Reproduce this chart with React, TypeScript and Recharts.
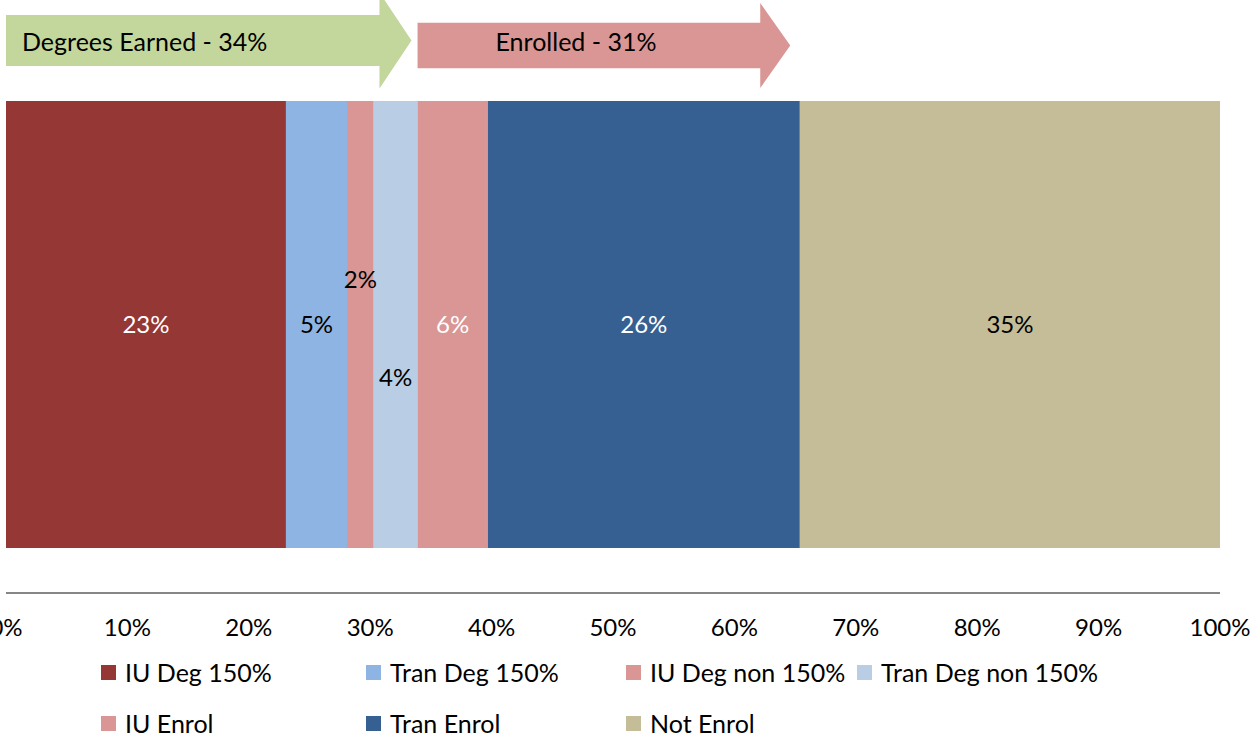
import { Bar, BarChart, LabelList, Legend, ReferenceArea, XAxis, YAxis } from "recharts";

const SERIES_KEYS = ["iuDeg150", "tranDeg150", "iuDegNon150", "tranDegNon150", "iuEnrol", "tranEnrol", "notEnrol"];
const SERIES_NAMES = ["IU Deg 150%", "Tran Deg 150%", "IU Deg non 150%", "Tran Deg non 150%", "IU Enrol", "Tran Enrol", "Not Enrol"];
const SERIES_VALUES = [23.06, 5.03, 2.2, 3.6, 5.8, 25.7, 34.61];
const COLORS = ["#953735", "#8EB4E3", "#D99694", "#B9CDE5", "#D99694", "#376092", "#C4BD97"];
const LABEL_COLORS = ["#ffffff", "#000000", "#000000", "#000000", "#ffffff", "#ffffff", "#000000"];
const LABEL_DY = [0, 0, -45, 53, 0, 0, 0];
const X_TICKS = [0, 10, 20, 30, 40, 50, 60, 70, 80, 90, 100];

// annotation arrows: [start %, tip %]
const ARROW_RANGES: [number, number][] = [
  [0, 33.4],
  [33.9, 64.6],
];
const ARROW_TEXTS = ["Degrees Earned - 34%", "Enrolled - 31%"];

const FONT = "Lato, 'Open Sans', sans-serif";
const PAD_TOP = 101;
const PAD_BOTTOM = 45;

const row: Record<string, string | number> = { name: "cohort" };
SERIES_KEYS.forEach((k, i) => {
  row[k] = SERIES_VALUES[i];
});
const data = [row];

const ARROW_STYLE = [
  { fill: "#C3D69B", cy: 40.5, body: 25.5, head: 48, headLen: 32, textX: 16, textDy: 4 },
  { fill: "#D99694", cy: 45.5, body: 22.7, head: 42.5, headLen: 30, textX: 78, textDy: -1 },
];

function arrowShape(i: number) {
  return (props: any) => {
    const { x, y, width } = props;
    const s = ARROW_STYLE[i];
    // reference area starts at the bar band; arrows sit in the padding above it
    const cy = y - PAD_TOP + s.cy;
    const bx = x + width - s.headLen;
    const tip = x + width;
    const pts = [
      [x, cy - s.body],
      [bx, cy - s.body],
      [bx, cy - s.head],
      [tip, cy],
      [bx, cy + s.head],
      [bx, cy + s.body],
      [x, cy + s.body],
    ]
      .map((p) => p.join(","))
      .join(" ");
    return (
      <g>
        <polygon points={pts} fill={s.fill} />
        <text x={x + s.textX} y={cy + s.textDy} dominantBaseline="middle" textAnchor="start" fontSize={25} fontFamily={FONT} fill="#000">
          {ARROW_TEXTS[i]}
        </text>
      </g>
    );
  };
}

const LEGEND_COLS = [101, 366, 626, 857];
const LEGEND_ROWS = [19, 70];

function LegendGrid() {
  return (
    <div style={{ position: "relative", width: 1259, height: 98, fontFamily: FONT, fontSize: 25 }}>
      {SERIES_NAMES.map((name, i) => {
        const left = LEGEND_COLS[i % 4];
        const top = LEGEND_ROWS[Math.floor(i / 4)];
        return (
          <div key={name} style={{ position: "absolute", left, top: top - 15, height: 30, display: "flex", alignItems: "center", whiteSpace: "nowrap" }}>
            <span style={{ display: "inline-block", width: 15, height: 15, background: COLORS[i], marginRight: 9 }} />
            <span style={{ color: "#000" }}>{name}</span>
          </div>
        );
      })}
    </div>
  );
}

export default function App() {
  return (
    <div style={{ position: "absolute", left: 0, top: 0, background: "#fff" }}>
      <BarChart width={1259} height={751} data={data} layout="vertical" margin={{ top: 0, right: 39, bottom: 0, left: 6 }} barCategoryGap={0}>
        <XAxis
          type="number"
          domain={[0, 100]}
          ticks={X_TICKS}
          tickFormatter={(v) => `${v}%`}
          axisLine={{ stroke: "#868686", strokeWidth: 2 }}
          tickLine={false}
          tickMargin={20}
          height={60}
          interval={0}
          tick={{ fill: "#000", fontSize: 24, fontFamily: FONT }}
        />
        <YAxis type="category" dataKey="name" hide padding={{ top: PAD_TOP, bottom: PAD_BOTTOM }} />
        {ARROW_RANGES.map(([a, b], i) => (
          <ReferenceArea key={i} x1={a} x2={b} ifOverflow="visible" shape={arrowShape(i)} />
        ))}
        {SERIES_KEYS.map((k, i) => (
          <Bar key={k} dataKey={k} name={SERIES_NAMES[i]} stackId="a" fill={COLORS[i]} isAnimationActive={false}>
            <LabelList
              dataKey={k}
              position="center"
              formatter={(v: any) => `${Math.round(Number(v))}%`}
              fill={LABEL_COLORS[i]}
              fontSize={24}
              fontFamily={FONT}
              dy={LABEL_DY[i]}
            />
          </Bar>
        ))}
        <Legend verticalAlign="bottom" content={() => <LegendGrid />} wrapperStyle={{ left: 0, bottom: 0, width: 1259, height: 98 }} />
      </BarChart>
    </div>
  );
}
